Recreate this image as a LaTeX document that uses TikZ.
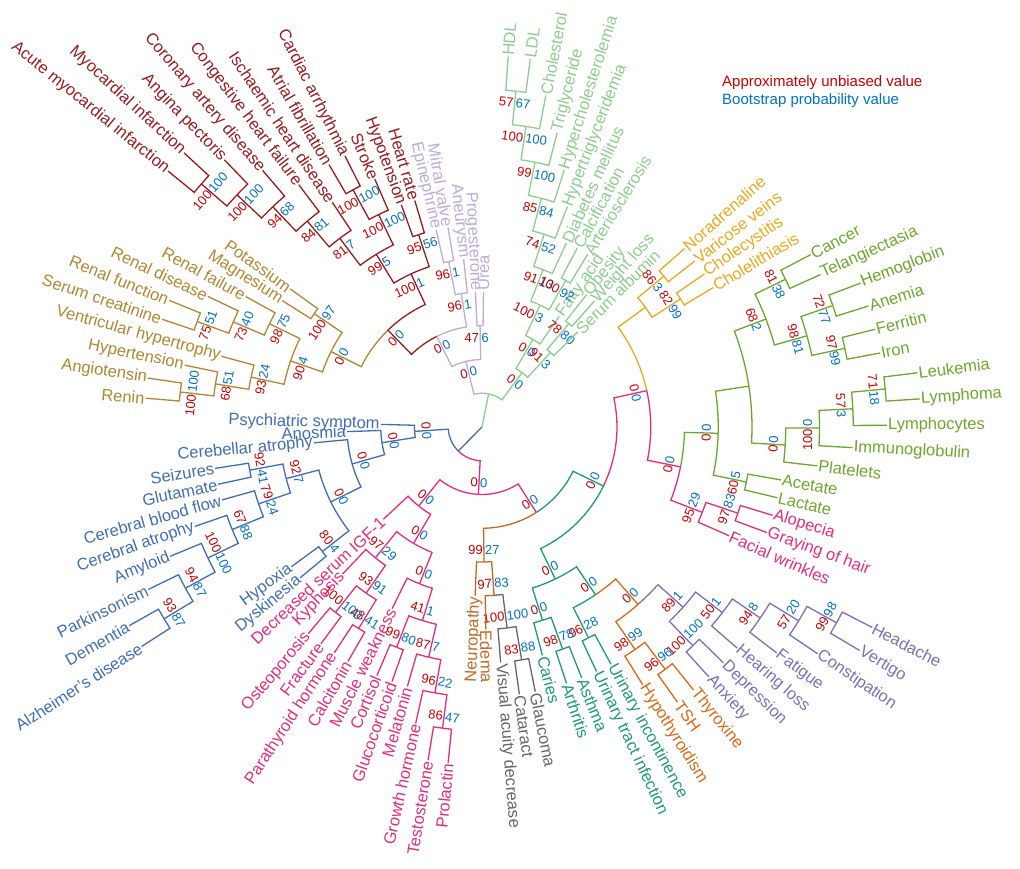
\documentclass[tikz,border=0pt]{standalone}
\usepackage{fontspec}
\setmainfont{Liberation Sans}

\definecolor{cGold}{RGB}{178,134,50}
\definecolor{cCardio}{RGB}{153,27,30}
\definecolor{cLav}{RGB}{188,172,218}
\definecolor{cGreen}{RGB}{140,206,140}
\definecolor{cYellow}{RGB}{238,168,28}
\definecolor{cYG}{RGB}{108,168,44}
\definecolor{cPink}{RGB}{232,44,124}
\definecolor{cPurple}{RGB}{124,112,190}
\definecolor{cOrange}{RGB}{224,104,20}
\definecolor{cTeal}{RGB}{28,156,118}
\definecolor{cGrey}{RGB}{102,102,102}
\definecolor{cBrown}{RGB}{196,104,40}
\definecolor{cBlue}{RGB}{64,110,180}
\definecolor{cAU}{RGB}{204,0,0}
\definecolor{cBP}{RGB}{0,112,204}

\tikzstyle{branch} = [line width=1.3pt]
\tikzstyle{leaflabel} = [inner sep=1pt, font=\fontsize{16.5}{18}\selectfont]
\tikzstyle{aulabel} = [inner sep=1pt, text=cAU, font=\fontsize{13}{14}\selectfont]
\tikzstyle{bplabel} = [inner sep=1pt, text=cBP, font=\fontsize{13}{14}\selectfont]
\tikzstyle{legend} = [anchor=base west, inner sep=0pt, font=\fontsize{15}{16}\selectfont]

% fan layout: leaf i sits at angle 175.1-3.43*i, every level is one step out
\newcommand{\hstep}{33.75}
\newcommand{\addleaf}[5]{%
  \pgfmathsetmacro\lang{175.1-3.42857*#2}%
  \pgfmathsetmacro\lrad{#3*\hstep}%
  \expandafter\xdef\csname ang#1\endcsname{\lang}%
  \expandafter\xdef\csname rad#1\endcsname{\lrad}%
  \expandafter\xdef\csname col#1\endcsname{#4}%
  \pgfmathtruncatemacro\lside{cos(\lang)>0 ? 1 : 0}%
  \ifnum\lside=1
    \node[leaflabel,text=#4,anchor=west,rotate=\lang] (#1) at (\lang:\lrad pt) {#5};
  \else
    \node[leaflabel,text=#4,anchor=east,rotate=\lang+180] (#1) at (\lang:\lrad pt) {#5};
  \fi}
\newcommand{\addclade}[7]{%
  \edef\ja{\csname ang#2\endcsname}\edef\ra{\csname rad#2\endcsname}\edef\ca{\csname col#2\endcsname}%
  \edef\jb{\csname ang#3\endcsname}\edef\rb{\csname rad#3\endcsname}\edef\cb{\csname col#3\endcsname}%
  \pgfmathsetmacro\jm{(\ja+\jb)/2}%
  \pgfmathsetmacro\jr{#4*\hstep}%
  \draw[branch,draw=\ca] (\ja:\ra pt) -- (\ja:\jr pt) arc[start angle=\ja,end angle=\jm,radius=\jr pt];
  \draw[branch,draw=\cb] (\jb:\rb pt) -- (\jb:\jr pt) arc[start angle=\jb,end angle=\jm,radius=\jr pt];
  \expandafter\xdef\csname ang#1\endcsname{\jm}%
  \expandafter\xdef\csname rad#1\endcsname{\jr}%
  \expandafter\xdef\csname col#1\endcsname{#5}%
  \if\relax\detokenize{#6}\relax\else
    \pgfmathtruncatemacro\jup{sin(\jm)>0 ? 1 : 0}%
    \pgfmathsetmacro\jl{\jr-6}%
    \ifnum\jup=1
      \node[aulabel,anchor=north east,rotate=\jm-90] (#1au) at (\jm:\jl pt) {#6};
      \node[bplabel,anchor=north west,rotate=\jm-90] (#1bp) at (\jm:\jl pt) {#7};
    \else
      \node[aulabel,anchor=south east,rotate=\jm+90] (#1au) at (\jm:\jl pt) {#6};
      \node[bplabel,anchor=south west,rotate=\jm+90] (#1bp) at (\jm:\jl pt) {#7};
    \fi
  \fi}

\begin{document}
\begin{tikzpicture}[x=1pt,y=1pt]
  \useasboundingbox (-482,-441) rectangle (538,427);

  % renal / blood pressure
  \addleaf{renin}{0}{10}{cGold}{Renin}
  \addleaf{angiot}{1}{10}{cGold}{Angiotensin}
  \addleaf{hypert}{2}{9}{cGold}{Hypertension}
  \addleaf{venthyp}{3}{8}{cGold}{Ventricular hypertrophy}
  \addleaf{screat}{4}{10}{cGold}{Serum creatinine}
  \addleaf{renfun}{5}{10}{cGold}{Renal function}
  \addleaf{rendis}{6}{9}{cGold}{Renal disease}
  \addleaf{renfail}{7}{8}{cGold}{Renal failure}
  \addleaf{magnes}{8}{7}{cGold}{Magnesium}
  \addleaf{potass}{9}{7}{cGold}{Potassium}
  \addclade{gh1}{renin}{angiot}{9}{cGold}{100}{100}
  \addclade{gh2}{hypert}{gh1}{8}{cGold}{68}{51}
  \addclade{gh3}{venthyp}{gh2}{7}{cGold}{93}{24}
  \addclade{gr1}{screat}{renfun}{9}{cGold}{75}{51}
  \addclade{gr2}{rendis}{gr1}{8}{cGold}{73}{40}
  \addclade{gr3}{renfail}{gr2}{7}{cGold}{98}{75}
  \addclade{grh}{gh3}{gr3}{6}{cGold}{90}{4}
  \addclade{gpm}{magnes}{potass}{6}{cGold}{100}{97}
  \addclade{gold}{grh}{gpm}{5}{cGold}{0}{0}

  % heart
  \addleaf{ami}{10}{12}{cCardio}{Acute myocardial infarction}
  \addleaf{mi}{11}{12}{cCardio}{Myocardial infarction}
  \addleaf{angina}{12}{11}{cCardio}{Angina pectoris}
  \addleaf{cad}{13}{10}{cCardio}{Coronary artery disease}
  \addleaf{chf}{14}{9}{cCardio}{Congestive heart failure}
  \addleaf{ihd}{15}{8}{cCardio}{Ischaemic heart disease}
  \addleaf{afib}{16}{9}{cCardio}{Atrial fibrillation}
  \addleaf{arrhy}{17}{9}{cCardio}{Cardiac arrhythmia}
  \addleaf{stroke}{18}{8}{cCardio}{Stroke}
  \addleaf{hypot}{19}{7}{cCardio}{Hypotension}
  \addleaf{hrate}{20}{7}{cCardio}{Heart rate}
  \addclade{c1}{ami}{mi}{11}{cCardio}{100}{100}
  \addclade{c2}{c1}{angina}{10}{cCardio}{100}{100}
  \addclade{c3}{c2}{cad}{9}{cCardio}{94}{68}
  \addclade{c4}{c3}{chf}{8}{cCardio}{84}{81}
  \addclade{c5}{c4}{ihd}{7}{cCardio}{81}{7}
  \addclade{c6}{afib}{arrhy}{8}{cCardio}{100}{100}
  \addclade{c7}{c6}{stroke}{7}{cCardio}{100}{100}
  \addclade{c8}{c5}{c7}{6}{cCardio}{99}{5}
  \addclade{ch}{hypot}{hrate}{6}{cCardio}{95}{56}
  \addclade{c9}{c8}{ch}{5}{cCardio}{100}{1}
  \addclade{gc}{gold}{c9}{4}{cCardio}{0}{0}

  % lavender bits
  \addleaf{epi}{21}{6}{cLav}{Epinephrine}
  \addleaf{mitral}{22}{6}{cLav}{Mitral valve}
  \addleaf{aneur}{23}{5}{cLav}{Aneurysm}
  \addleaf{proges}{24}{4}{cLav}{Progesterone}
  \addleaf{urea}{25}{4}{cLav}{Urea}
  \addclade{e}{epi}{mitral}{5}{cLav}{96}{1}
  \addclade{f}{e}{aneur}{4}{cLav}{96}{1}
  \addclade{nlc}{gc}{f}{3}{cLav}{0}{0}
  \addclade{y}{proges}{urea}{3}{cLav}{47}{6}
  \addclade{x}{nlc}{y}{2}{cLav}{0}{0}

  % lipids, metabolism
  \addleaf{hdl}{26}{11}{cGreen}{HDL}
  \addleaf{ldl}{27}{11}{cGreen}{LDL}
  \addleaf{chol}{28}{10}{cGreen}{Cholesterol}
  \addleaf{trig}{29}{9}{cGreen}{Triglyceride}
  \addleaf{hchol}{30}{8}{cGreen}{Hypercholesterolemia}
  \addleaf{htrig}{31}{7}{cGreen}{Hypertriglyceridemia}
  \addleaf{diab}{32}{6}{cGreen}{Diabetes mellitus}
  \addleaf{calc}{33}{6}{cGreen}{Calcification}
  \addleaf{arter}{34}{6}{cGreen}{Arteriosclerosis}
  \addleaf{fatty}{35}{4}{cGreen}{Fatty acid}
  \addleaf{obes}{36}{5}{cGreen}{Obesity}
  \addleaf{wloss}{37}{5}{cGreen}{Weight loss}
  \addleaf{salb}{38}{4}{cGreen}{Serum albumin}
  \addclade{g1}{hdl}{ldl}{10}{cGreen}{57}{67}
  \addclade{g2}{g1}{chol}{9}{cGreen}{100}{100}
  \addclade{g3}{g2}{trig}{8}{cGreen}{99}{100}
  \addclade{g4}{g3}{hchol}{7}{cGreen}{85}{84}
  \addclade{g5}{g4}{htrig}{6}{cGreen}{74}{52}
  \addclade{g7}{g5}{diab}{5}{cGreen}{91}{13}
  \addclade{g6}{calc}{arter}{5}{cGreen}{100}{92}
  \addclade{g8}{g7}{g6}{4}{cGreen}{100}{3}
  \addclade{gfa}{g8}{fatty}{3}{cGreen}{0}{0}
  \addclade{g9}{obes}{wloss}{4}{cGreen}{78}{80}
  \addclade{g10}{g9}{salb}{3}{cGreen}{91}{3}
  \addclade{green}{gfa}{g10}{2}{cGreen}{0}{0}
  \addclade{top}{x}{green}{1}{cGreen}{}{}

  % gall / veins
  \addleaf{norad}{39}{8}{cYellow}{Noradrenaline}
  \addleaf{varic}{40}{8}{cYellow}{Varicose veins}
  \addleaf{cholec}{41}{8}{cYellow}{Cholecystitis}
  \addleaf{cholel}{42}{8}{cYellow}{Cholelithiasis}
  \addclade{y1}{norad}{varic}{7}{cYellow}{86}{3}
  \addclade{y2}{cholec}{cholel}{7}{cYellow}{82}{99}
  \addclade{y3}{y1}{y2}{6}{cYellow}{}{}

  % blood
  \addleaf{cancer}{43}{11}{cYG}{Cancer}
  \addleaf{telang}{44}{11}{cYG}{Telangiectasia}
  \addleaf{hemo}{45}{12}{cYG}{Hemoglobin}
  \addleaf{anemia}{46}{12}{cYG}{Anemia}
  \addleaf{ferr}{47}{12}{cYG}{Ferritin}
  \addleaf{iron}{48}{12}{cYG}{Iron}
  \addleaf{leuk}{49}{13}{cYG}{Leukemia}
  \addleaf{lymph}{50}{13}{cYG}{Lymphoma}
  \addleaf{lymphc}{51}{12}{cYG}{Lymphocytes}
  \addleaf{immun}{52}{11}{cYG}{Immunoglobulin}
  \addleaf{plate}{53}{10}{cYG}{Platelets}
  \addleaf{acet}{54}{9}{cYG}{Acetate}
  \addleaf{lact}{55}{9}{cYG}{Lactate}
  \addclade{yg1}{cancer}{telang}{10}{cYG}{81}{38}
  \addclade{yg2}{hemo}{anemia}{11}{cYG}{72}{77}
  \addclade{yg3}{ferr}{iron}{11}{cYG}{97}{99}
  \addclade{yg4}{yg2}{yg3}{10}{cYG}{98}{81}
  \addclade{yg5}{yg1}{yg4}{9}{cYG}{68}{2}
  \addclade{yl1}{leuk}{lymph}{12}{cYG}{71}{18}
  \addclade{yl2}{yl1}{lymphc}{11}{cYG}{57}{3}
  \addclade{yl3}{yl2}{immun}{10}{cYG}{100}{0}
  \addclade{yl4}{yl3}{plate}{9}{cYG}{0}{0}
  \addclade{yga}{yg5}{yl4}{8}{cYG}{}{}
  \addclade{yal}{acet}{lact}{8}{cYG}{60}{5}
  \addclade{ygb}{yga}{yal}{7}{cYG}{0}{0}

  % hair and skin
  \addleaf{alop}{56}{9}{cPink}{Alopecia}
  \addleaf{gray}{57}{9}{cPink}{Graying of hair}
  \addleaf{facial}{58}{8}{cPink}{Facial wrinkles}
  \addclade{pa1}{alop}{gray}{8}{cPink}{97}{83}
  \addclade{pa2}{pa1}{facial}{7}{cPink}{95}{29}
  \addclade{pkyg}{ygb}{pa2}{6}{cPink}{0}{0}
  \addclade{yp}{y3}{pkyg}{5}{cPink}{0}{0}

  % general complaints
  \addleaf{head}{59}{13}{cPurple}{Headache}
  \addleaf{vert}{60}{13}{cPurple}{Vertigo}
  \addleaf{const}{61}{12}{cPurple}{Constipation}
  \addleaf{fatig}{62}{11}{cPurple}{Fatigue}
  \addleaf{hear}{63}{10}{cPurple}{Hearing loss}
  \addleaf{depr}{64}{10}{cPurple}{Depression}
  \addleaf{anx}{65}{10}{cPurple}{Anxiety}
  \addclade{p1}{head}{vert}{12}{cPurple}{99}{98}
  \addclade{p2}{p1}{const}{11}{cPurple}{57}{20}
  \addclade{p3}{p2}{fatig}{10}{cPurple}{94}{8}
  \addclade{p4}{p3}{hear}{9}{cPurple}{50}{1}
  \addclade{p5}{depr}{anx}{9}{cPurple}{100}{100}
  \addclade{p6}{p4}{p5}{8}{cPurple}{89}{1}

  % thyroid
  \addleaf{thyrox}{66}{10}{cOrange}{Thyroxine}
  \addleaf{tsh}{67}{10}{cOrange}{TSH}
  \addleaf{hypoth}{68}{9}{cOrange}{Hypothyroidism}
  \addclade{o1}{thyrox}{tsh}{9}{cOrange}{96}{96}
  \addclade{o2}{o1}{hypoth}{8}{cOrange}{98}{99}
  \addclade{op}{o2}{p6}{7}{cOrange}{0}{0}

  % urinary, joints
  \addleaf{uinc}{69}{8}{cTeal}{Urinary incontinence}
  \addleaf{uti}{70}{8}{cTeal}{Urinary tract infection}
  \addleaf{asthma}{71}{8}{cTeal}{Asthma}
  \addleaf{arthr}{72}{8}{cTeal}{Arthritis}
  \addleaf{caries}{73}{7}{cTeal}{Caries}
  \addclade{tu}{uinc}{uti}{7}{cTeal}{96}{28}
  \addclade{tb}{tu}{op}{6}{cTeal}{0}{0}
  \addclade{tt1}{asthma}{arthr}{7}{cTeal}{98}{78}
  \addclade{ta}{tt1}{caries}{6}{cTeal}{0}{0}
  \addclade{tc}{ta}{tb}{5}{cTeal}{0}{0}
  \addclade{pt}{tc}{yp}{4}{cTeal}{0}{0}

  % eyes, nerves
  \addleaf{glauc}{74}{8}{cGrey}{Glaucoma}
  \addleaf{catar}{75}{8}{cGrey}{Cataract}
  \addleaf{vad}{76}{7}{cGrey}{Visual acuity decrease}
  \addleaf{edema}{77}{6}{cBrown}{Edema}
  \addleaf{neuro}{78}{5}{cBrown}{Neuropathy}
  \addclade{g1g}{glauc}{catar}{7}{cGrey}{83}{88}
  \addclade{g2g}{vad}{g1g}{6}{cGrey}{100}{100}
  \addclade{b1}{edema}{g2g}{5}{cBrown}{97}{83}
  \addclade{brn}{neuro}{b1}{4}{cBrown}{99}{27}
  \addclade{t0}{brn}{pt}{3}{cPink}{0}{0}

  % hormones, bones
  \addleaf{prol}{79}{10}{cPink}{Prolactin}
  \addleaf{testo}{80}{10}{cPink}{Testosterone}
  \addleaf{ghorm}{81}{9}{cPink}{Growth hormone}
  \addleaf{melat}{82}{8}{cPink}{Melatonin}
  \addleaf{gluco}{83}{8}{cPink}{Glucocorticoid}
  \addleaf{cortis}{84}{8}{cPink}{Cortisol}
  \addleaf{muscw}{85}{6}{cPink}{Muscle weakness}
  \addleaf{calcit}{86}{8}{cPink}{Calcitonin}
  \addleaf{parath}{87}{8}{cPink}{Parathyroid hormone}
  \addleaf{fract}{88}{8}{cPink}{Fracture}
  \addleaf{osteo}{89}{8}{cPink}{Osteoporosis}
  \addleaf{kypho}{90}{6}{cPink}{Kyphosis}
  \addleaf{igf}{91}{4}{cPink}{Decreased serum IGF-1}
  \addclade{k1}{prol}{testo}{9}{cPink}{86}{47}
  \addclade{k2}{k1}{ghorm}{8}{cPink}{96}{22}
  \addclade{k3}{k2}{melat}{7}{cPink}{87}{7}
  \addclade{k4}{gluco}{cortis}{7}{cPink}{99}{80}
  \addclade{k5}{k3}{k4}{6}{cPink}{41}{1}
  \addclade{k6}{k5}{muscw}{5}{cPink}{0}{0}
  \addclade{k8}{calcit}{parath}{7}{cPink}{48}{41}
  \addclade{k7}{fract}{osteo}{7}{cPink}{100}{100}
  \addclade{k9}{k8}{k7}{6}{cPink}{93}{91}
  \addclade{k10}{k9}{kypho}{5}{cPink}{97}{29}
  \addclade{k11}{k6}{k10}{4}{cPink}{0}{0}
  \addclade{k12}{k11}{igf}{3}{cPink}{0}{0}
  \addclade{pinkbig}{k12}{t0}{2}{cPink}{0}{0}

  % brain
  \addleaf{dysk}{92}{7}{cBlue}{Dyskinesia}
  \addleaf{hypox}{93}{7}{cBlue}{Hypoxia}
  \addleaf{alz}{94}{12}{cBlue}{Alzheimer's disease}
  \addleaf{dement}{95}{12}{cBlue}{Dementia}
  \addleaf{parkin}{96}{11}{cBlue}{Parkinsonism}
  \addleaf{amyl}{97}{10}{cBlue}{Amyloid}
  \addleaf{cerat}{98}{9}{cBlue}{Cerebral atrophy}
  \addleaf{cbf}{99}{8}{cBlue}{Cerebral blood flow}
  \addleaf{glut}{100}{8}{cBlue}{Glutamate}
  \addleaf{seiz}{101}{8}{cBlue}{Seizures}
  \addleaf{cereb}{102}{5}{cBlue}{Cerebellar atrophy}
  \addleaf{anosm}{103}{4}{cBlue}{Anosmia}
  \addleaf{psych}{104}{3}{cBlue}{Psychiatric symptom}
  \addclade{bhd}{dysk}{hypox}{6}{cBlue}{80}{4}
  \addclade{bda}{alz}{dement}{11}{cBlue}{93}{87}
  \addclade{bpk}{bda}{parkin}{10}{cBlue}{94}{87}
  \addclade{ba}{bpk}{amyl}{9}{cBlue}{100}{100}
  \addclade{bca}{ba}{cerat}{8}{cBlue}{67}{88}
  \addclade{bcbf}{bca}{cbf}{7}{cBlue}{79}{24}
  \addclade{bsg}{glut}{seiz}{7}{cBlue}{92}{41}
  \addclade{b7}{bcbf}{bsg}{6}{cBlue}{92}{7}
  \addclade{b0a}{bhd}{b7}{5}{cBlue}{0}{0}
  \addclade{b0b}{b0a}{cereb}{4}{cBlue}{0}{0}
  \addclade{b0c}{b0b}{anosm}{3}{cBlue}{0}{0}
  \addclade{blue}{b0c}{psych}{2}{cBlue}{0}{0}
  \addclade{bot}{blue}{pinkbig}{1}{cBlue}{}{}

  % root
  \edef\tta{\csname angtop\endcsname}\edef\ttb{\csname angbot\endcsname}
  \draw[branch,draw=cGreen] (0,0) -- (\tta:\hstep pt);
  \draw[branch,draw=cBlue] (0,0) -- (\ttb:\hstep pt);

  \node[legend,text=cAU] (leg1) at (240,340) {Approximately unbiased value};
  \node[legend,text=cBP] (leg2) at (240,322) {Bootstrap probability value};
\end{tikzpicture}
\end{document}
